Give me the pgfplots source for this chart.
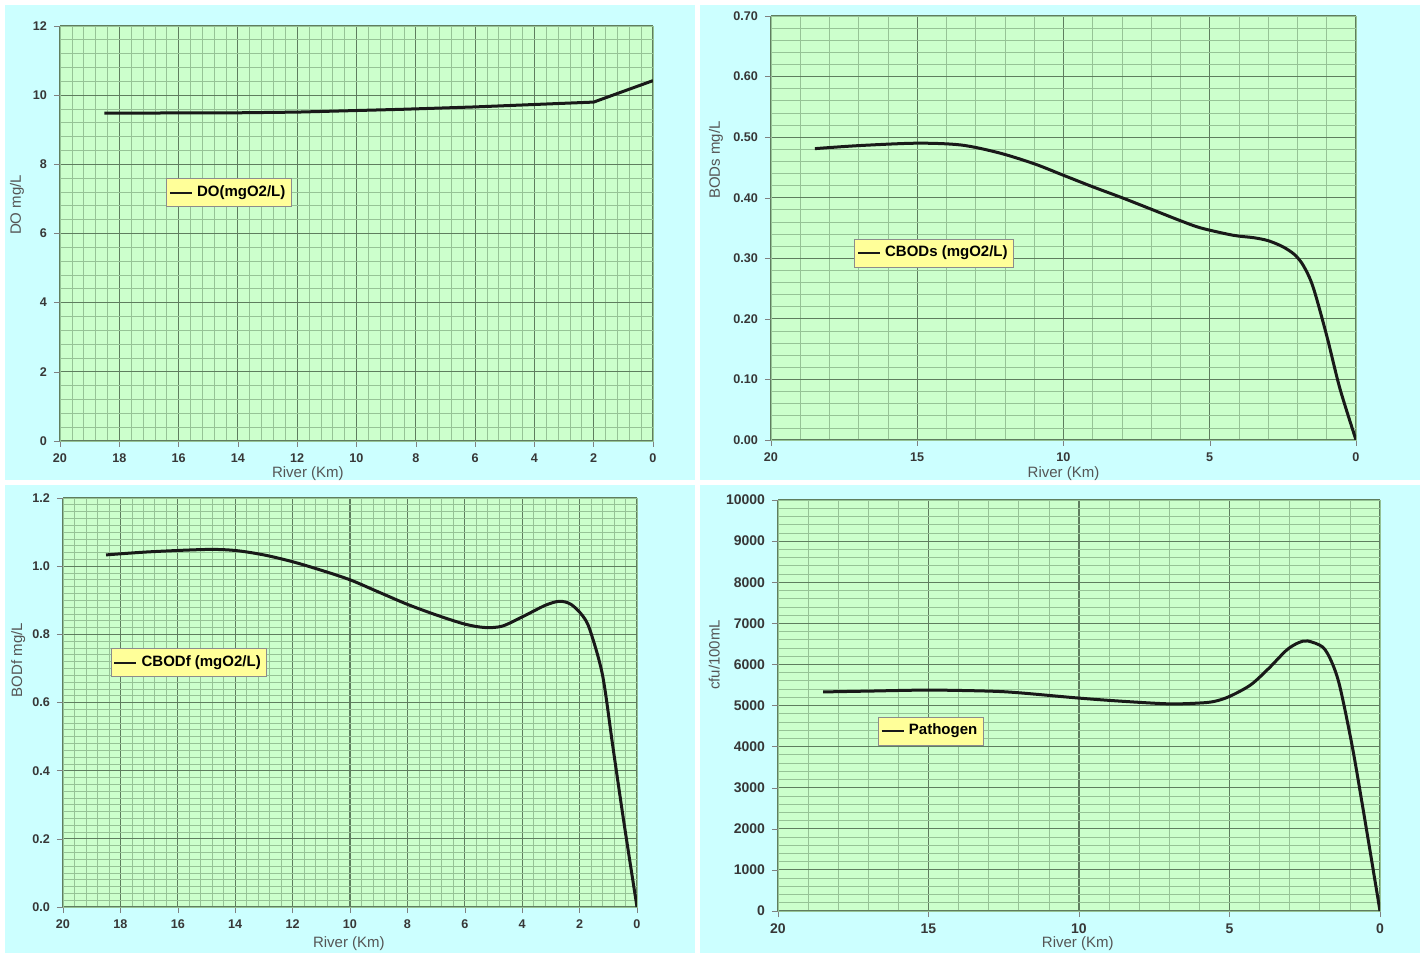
\documentclass[border=0pt]{standalone}
\usepackage{pgfplots}
\pgfplotsset{compat=1.18}
\usepackage{fontspec}
\setmainfont{Liberation Sans}
\setsansfont{Liberation Sans}
\definecolor{cyanbg}{RGB}{204,255,255}
\definecolor{plotgreen}{RGB}{204,255,204}
\definecolor{gridminor}{RGB}{150,195,150}
\definecolor{gridmajor}{RGB}{95,125,95}
\definecolor{legendfill}{RGB}{255,255,153}
\definecolor{ticktext}{RGB}{55,55,55}
\definecolor{labeltext}{RGB}{85,85,85}
\pgfplotsset{
  panel/.style={
    scale only axis,
    x dir=reverse,
    xmin=0, xmax=20,
    ymin=0,
    axis background/.style={fill=plotgreen},
    grid=both,
    major grid style={draw=gridmajor, line width=0.55pt},
    minor grid style={draw=gridminor, line width=0.35pt},
    axis line style={draw=gridminor},
    x axis line style={draw=gray},
    xtick pos=bottom,
    ytick pos=left,
    yticklabel pos=left,
    xtick align=outside,
    ytick align=outside,
    major tick length=3pt,
    minor tick length=0pt,
    tick style={draw=gray},
    scaled y ticks=false,
    /pgf/number format/assume math mode=true,
    ticklabel style={font=\bfseries\fontsize{6.3}{7}\selectfont, text=ticktext},
    label style={font=\fontsize{7.5}{8}\selectfont, text=labeltext},
    xlabel={River (Km)},
    legend style={anchor=center, fill=legendfill, draw=black!45,
      font=\bfseries\fontsize{7.5}{8}\selectfont, inner xsep=1pt, inner ysep=1.5pt,
      cells={anchor=west}},
    legend image code/.code={\draw[#1, line width=1.2pt] (0pt,0pt) -- (11pt,0pt);},
  },
  curve/.style={black!90, line width=1.5pt, no markers},
}
\begin{document}
\begin{tikzpicture}[x=0.5pt,y=0.5pt]
\fill[white] (0,0) rectangle (1425,956);
\fill[cyanbg] (5,3) rectangle (695,471);
\fill[cyanbg] (700,3) rectangle (1420,471);
\fill[cyanbg] (5,476) rectangle (695,951);
\fill[cyanbg] (700,476) rectangle (1420,951);

% Panel 1: DO
\begin{axis}[panel, at={(30pt,257.5pt)}, anchor=south west,
  width=296.5pt, height=207.5pt,
  ymax=12, xtick={0,2,...,20}, ytick={0,2,...,12},
  minor x tick num=4, minor y tick num=4,
  ylabel={DO mg/L},
  xlabel style={at={(axis description cs:0.418,-0.078)}, anchor=center},
  ylabel style={at={(axis description cs:-0.0725,0.569)}, anchor=center, rotate=0},
  legend style={at={(0.285,0.598)}}]
\addplot[curve] coordinates {(18.5,9.48) (14,9.49) (12,9.51) (8.5,9.59) (6,9.66) (4,9.73) (2,9.80) (0,10.42)};
\addlegendentry{DO(mgO2/L)}
\end{axis}

% Panel 2: CBODs
\begin{axis}[panel, at={(385.5pt,258pt)}, anchor=south west,
  width=292.5pt, height=212pt,
  ymax=0.7, xtick={0,5,...,20}, ytick={0,0.1,...,0.7},
  minor x tick num=4, minor y tick num=4,
  yticklabel style={/pgf/number format/fixed, /pgf/number format/fixed zerofill, /pgf/number format/precision=2},
  ylabel={BODs mg/L},
  xlabel style={at={(axis description cs:0.5,-0.080)}, anchor=center},
  ylabel style={at={(axis description cs:-0.094,0.660)}, anchor=center},
  legend style={at={(0.279,0.441)}}]
\addplot[curve, smooth] coordinates {(18.5,0.481) (17,0.486) (15,0.490) (13.5,0.487) (12.2,0.474) (11,0.456) (10,0.437) (9,0.418) (8,0.400) (7,0.381) (6,0.362) (5.3,0.350) (4.2,0.338) (3.5,0.334) (3.0,0.329) (2.5,0.319) (2.1,0.306) (1.8,0.288) (1.47,0.253) (1.0,0.172) (0.55,0.085) (0,0.0)};
\addlegendentry{CBODs (mgO2/L)}
\end{axis}

% Panel 3: CBODf
\begin{axis}[panel, at={(31.5pt,24.5pt)}, anchor=south west,
  width=287pt, height=204.5pt,
  ymax=1.2, xtick={0,2,...,20}, ytick={0,0.2,...,1.2},
  minor x tick num=4, minor y tick num=9,
  yticklabel style={/pgf/number format/fixed, /pgf/number format/fixed zerofill, /pgf/number format/precision=1},
  ylabel={BODf mg/L},
  xlabel style={at={(axis description cs:0.498,-0.090)}, anchor=center},
  ylabel style={at={(axis description cs:-0.078,0.604)}, anchor=center},
  legend style={at={(0.2195,0.597)}}]
\addplot[curve, smooth] coordinates {(18.5,1.033) (17,1.042) (15,1.049) (14,1.046) (13,1.033) (12,1.013) (11,0.988) (10,0.960) (9,0.924) (8,0.888) (7,0.857) (6,0.830) (5.3,0.820) (4.7,0.824) (4,0.851) (3.2,0.885) (2.7,0.897) (2.3,0.888) (1.9,0.855) (1.64,0.813) (1.2,0.680) (0.84,0.470) (0.45,0.245) (0,0.0)};
\addlegendentry{CBODf (mgO2/L)}
\end{axis}

% Panel 4: Pathogen
\begin{axis}[panel, at={(389pt,22.5pt)}, anchor=south west,
  width=301pt, height=205.5pt,
  ymax=10000, xtick={0,5,...,20}, ytick={0,1000,...,10000},
  minor x tick num=4, minor y tick num=4,
  ticklabel style={font=\bfseries\fontsize{7}{8}\selectfont},
  yticklabel style={/pgf/number format/1000 sep={}},
  ylabel={cfu/100mL},
  xlabel style={at={(axis description cs:0.498,-0.080)}, anchor=center},
  ylabel style={at={(axis description cs:-0.106,0.623)}, anchor=center},
  legend style={at={(0.254,0.438)}}]
\addplot[curve, smooth] coordinates {(18.5,5330) (17,5350) (15,5375) (13,5350) (12,5310) (10,5180) (8.5,5100) (7,5040) (6,5060) (5.5,5100) (5,5220) (4.3,5500) (3.7,5900) (3.1,6350) (2.7,6530) (2.4,6570) (1.9,6420) (1.6,6050) (1.33,5450) (0.9,3920) (0.43,1900) (0,0)};
\addlegendentry{Pathogen}
\end{axis}
\end{tikzpicture}
\end{document}
